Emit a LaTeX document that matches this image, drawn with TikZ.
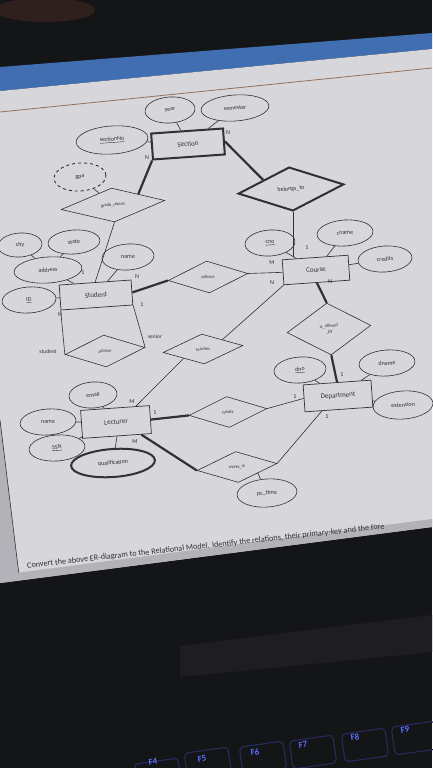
\documentclass[tikz,border=0pt]{standalone}
\usepackage{fontspec}
\setmainfont{Carlito}
\usepackage{tikz}
\usetikzlibrary{shapes.geometric,positioning,calc}
\definecolor{ink}{RGB}{48, 48, 54}
\definecolor{paper}{RGB}{214, 214, 219}
\definecolor{margin}{RGB}{178, 178, 184}
\definecolor{bezel}{RGB}{20, 21, 22}
\definecolor{hinge}{RGB}{30, 30, 32}
\definecolor{fingers}{RGB}{48, 32, 29}
\definecolor{ribbon}{RGB}{64, 110, 176}
\definecolor{ruler}{RGB}{150, 112, 86}
\definecolor{keyglow}{RGB}{90, 110, 255}
\definecolor{keyrim}{RGB}{40, 44, 96}
\tikzstyle{entity} = [draw=ink, rectangle, line width=0.7pt, minimum width=70pt, minimum height=25pt, inner sep=0, rotate=4, text=ink, font=\fontsize{7}{8}\selectfont]
\tikzstyle{weakentity} = [entity, line width=2pt]
\tikzstyle{relation} = [draw=ink, diamond, line width=0.6pt, inner sep=0, rotate=5, text=ink, align=center, font=\fontsize{4.5}{5.5}\selectfont]
\tikzstyle{idrelation} = [relation, line width=2pt]
\tikzstyle{attr} = [draw=ink, ellipse, line width=0.6pt, inner sep=0, minimum height=26pt, rotate=4, text=ink, font=\fontsize{6}{7}\selectfont]
\tikzstyle{derived} = [attr, dashed, line width=0.9pt]
\tikzstyle{multi} = [attr, line width=2pt]
\tikzstyle{link} = [draw=ink, line width=0.6pt]
\tikzstyle{strong} = [draw=ink, line width=2.2pt]
\tikzstyle{cardinal} = [inner sep=0, text=ink, font=\fontsize{6}{7}\selectfont]
\tikzstyle{fkey} = [draw=keyrim, rectangle, rounded corners=4pt, line width=1pt, minimum width=44pt, minimum height=28pt, rotate=8]
\tikzstyle{fkeytext} = [inner sep=0, rotate=8, text=keyglow, font=\bfseries\fontsize{9}{10}\selectfont]

\begin{document}
\begin{tikzpicture}[x=1pt,y=-1pt]
    % Photo background
    \useasboundingbox (0,0) rectangle (432,768);
    \fill[bezel] (0,0) rectangle (432,768);
    \fill[fingers] (45,10) ellipse (50pt and 12pt);
    \fill[ribbon] (0,67) -- (432,33) -- (432,49) -- (0,91) -- cycle;
    \fill[paper] (0,91) -- (432,49) -- (432,527) -- (0,583) -- cycle;
    \draw[ruler, line width=0.8pt] (0,112) -- (432,68);
    \fill[margin] (0,420) -- (19,575) -- (0,576) -- cycle;
    \draw[ink, line width=0.6pt] (0,420) -- (19,575);
    \fill[margin] (0,575) -- (432,519) -- (432,527) -- (0,583) -- cycle;
    \fill[hinge] (180,646) -- (432,615) -- (432,652) -- (180,677) -- cycle;
    % Keyboard
    \node[fkey] (F4 key) at (158,775) {};
    \node[fkey] (F5 key) at (208,764) {};
    \node[fkey] (F6 key) at (263,758) {};
    \node[fkey] (F7 key) at (313,752) {};
    \node[fkey] (F8 key) at (365,745) {};
    \node[fkey] (F9 key) at (415,738) {};
    \node[fkeytext] (F4) at (153,762) {F4};
    \node[fkeytext] (F5) at (202,759) {F5};
    \node[fkeytext] (F6) at (255,752) {F6};
    \node[fkeytext] (F7) at (303,745) {F7};
    \node[fkeytext] (F8) at (355,737) {F8};
    \node[fkeytext] (F9) at (405,730) {F9};

    % Section and its attributes
    \node[weakentity, minimum width=72pt, minimum height=26pt] (Section) at (188,144) {Section};
    \node[attr, minimum width=50pt] (year) at (170,110) {year};
    \node[attr, minimum width=68pt] (semester) at (235,108) {semester};
    \node[attr, minimum width=72pt, minimum height=28pt] (sectionNo) at (112,140) {\underline{sectionNo}};
    \node[relation, minimum width=104pt, minimum height=34pt] (gradeReport) at (113,205) {grade\_report};
    \node[derived, minimum width=52pt, minimum height=28pt] (gpa) at (80,177) {gpa};
    \node[idrelation, minimum width=106pt, minimum height=44pt] (belongsTo) at (291,189) {\fontsize{6}{7}\selectfont belongs\_to};
    % Student
    \node[entity, minimum width=72pt] (Student) at (96,295) {Student};
    \node[attr, minimum width=44pt, minimum height=24pt] (city) at (20,245) {city};
    \node[attr, minimum width=52pt, minimum height=24pt] (state) at (74,242) {state};
    \node[attr, minimum width=68pt] (address) at (48,270) {address};
    \node[attr, minimum width=52pt] (sname) at (128,257) {name};
    \node[attr, minimum width=54pt] (ID) at (29,300) {\underline{ID}};
    % Course
    \node[entity, minimum width=66pt] (Course) at (316,270) {Course};
    \node[attr, minimum width=50pt] (cno) at (270,243) {\underline{cno}};
    \node[attr, minimum width=56pt] (cname) at (345,233) {cname};
    \node[attr, minimum width=54pt] (credits) at (385,259) {credits};
    \node[relation, minimum width=80pt, minimum height=32pt] (follows) at (208,277) {follows};
    \node[relation, minimum width=84pt, minimum height=52pt] (offeredBy) at (329,329) {is\_offered\\\_by};
    \node[relation, minimum width=80pt, minimum height=30pt] (teaches) at (203,349) {teaches};
    \node[relation, minimum width=80pt, minimum height=32pt] (advisor) at (105,351) {advisor};
    % Department
    \node[entity, minimum width=68pt, minimum height=27pt] (Department) at (338,396) {Department};
    \node[attr, minimum width=52pt] (dno) at (300,370) {\underline{dno}};
    \node[attr, minimum width=56pt] (dname) at (387,363) {dname};
    \node[attr, minimum width=60pt, minimum height=28pt] (extension) at (403,405) {extension};
    % Lecturer
    \node[entity, minimum width=69pt, minimum height=28pt] (Lecturer) at (116,422) {Lecturer};
    \node[attr, minimum width=48pt] (email) at (93,395) {email};
    \node[attr, minimum width=56pt] (lname) at (48,422) {name};
    \node[attr, minimum width=56pt] (SSN) at (57,448) {\underline{SSN}};
    \node[multi, minimum width=84pt, minimum height=28pt] (qualification) at (113,463) {qualification};
    \node[relation, minimum width=78pt, minimum height=31pt] (heads) at (228,412) {heads};
    \node[relation, minimum width=80pt, minimum height=31pt] (worksIn) at (237,467) {works\_in};
    \node[attr, minimum width=60pt, minimum height=28pt] (pcTime) at (267,493) {pc\_time};

    % Connectors
    \draw[link] (year) -- (Section);
    \draw[link] (semester) -- (Section);
    \draw[link] (sectionNo) -- (Section);
    \draw[strong] (Section.south west) -- (gradeReport.north east);
    \draw[strong] (Section.east) -- (belongsTo.north west);
    \draw[link] (gpa) -- (gradeReport);
    \draw[link] (gradeReport.south) -- (Student.north);
    \draw[link] (belongsTo.south) -- (belongsTo.south |- Course.north);
    \draw[link] (city) -- (address);
    \draw[link] (state) -- (address);
    \draw[link] (address) -- (Student);
    \draw[link] (sname) -- (Student);
    \draw[link] (ID) -- (Student);
    \draw[strong] (Student.east) -- (follows.west);
    \draw[link] (follows.east) -- (Course.west);
    \draw[link] (cno) -- (Course);
    \draw[link] (cname) -- (Course);
    \draw[link] (credits) -- (Course);
    \draw[strong] (Course.south) -- (offeredBy.north);
    \draw[strong] (offeredBy.south) -- (Department.north);
    \draw[link] (Course.south west) -- (teaches.north east);
    \draw[link] (Student.south west) -- (advisor.west);
    \draw[link] (Student.south east) -- (advisor.east);
    \draw[link] (teaches.south west) -- ($(Lecturer.north)!0.6!(Lecturer.north east)$);
    \draw[link] (dno) -- (Department);
    \draw[link] (dname) -- (Department);
    \draw[link] (extension) -- (Department);
    \draw[link] (email) -- (Lecturer);
    \draw[link] (lname) -- (Lecturer);
    \draw[link] (SSN) -- (Lecturer);
    \draw[link] (Lecturer.south) -- (qualification);
    \draw[strong] (Lecturer.east) -- (heads.west);
    \draw[link] (heads.east) -- (Department.west);
    \draw[strong] ($(Lecturer.south)!0.7!(Lecturer.south east)$) -- (worksIn.west);
    \draw[link] (worksIn.east) -- ($(Department.south)!0.5!(Department.south west)$);
    \draw[link] (worksIn.south east) -- (pcTime);

    % Cardinalities and roles
    \node[cardinal] (nSecBelongs) at (228,133) {N};
    \node[cardinal] (nSecGrade) at (147,158) {N};
    \node[cardinal] (oneStuGrade) at (83,273) {1};
    \node[cardinal] (nStuFollows) at (137,277) {N};
    \node[cardinal] (mCouFollows) at (272,263) {M};
    \node[cardinal] (oneCouBelongs) at (307,248) {1};
    \node[cardinal] (nCouTeaches) at (272,283) {N};
    \node[cardinal] (nCouOffered) at (330,282) {N};
    \node[cardinal] (oneStuSenior) at (142,305) {1};
    \node[cardinal] (nStuStudent) at (60,315) {N};
    \node[cardinal, font=\fontsize{5.5}{6}\selectfont] (roleSenior) at (155,337) {senior};
    \node[cardinal, font=\fontsize{5.5}{6}\selectfont] (roleStudent) at (48,352) {student};
    \node[cardinal] (oneDepOffered) at (342,375) {1};
    \node[cardinal] (oneDepHeads) at (295,397) {1};
    \node[cardinal] (oneDepWorks) at (327,417) {1};
    \node[cardinal] (mLecTeaches) at (132,402) {M};
    \node[cardinal] (oneLecHeads) at (155,413) {1};
    \node[cardinal] (mLecWorks) at (135,442) {M};

    % Question text
    \node[anchor=west, rotate=6.3, inner sep=0, text=ink, font=\fontsize{8.2}{10}\selectfont] (Question) at (27,566) {Convert the above ER-diagram to the Relational Model. Identify the relations, their primary-key and the fore};
\end{tikzpicture}
\end{document}
